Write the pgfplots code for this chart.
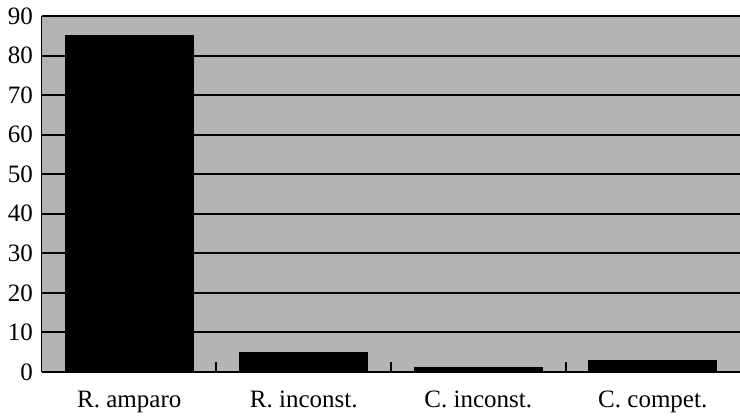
\documentclass[border=0pt]{standalone}
\usepackage{pgfplots}
\pgfplotsset{compat=1.18}
\usepackage{fontspec}
\setmainfont{Liberation Serif}
\usetikzlibrary{calc}
\definecolor{bggray}{HTML}{B4B4B4}
\begin{document}
\begin{tikzpicture}
\begin{axis}[
  name=ax,
  scale only axis,
  width=349pt, height=178pt,
  xmin=-0.5, xmax=3.5,
  ymin=0, ymax=90,
  ytick={0,10,...,90},
  xtick={0,1,2,3},
  xticklabels={R. amparo, R. inconst., C. inconst., C. compet.},
  minor xtick={0.5,1.5,2.5},
  tick pos=left,
  major x tick style={draw=none},
  minor x tick style={black, line width=1pt},
  minor tick length=5pt,
  tick align=inside,
  major y tick style={draw=none},
  ymajorgrids,
  major grid style={black, line width=1pt},
  axis line style={draw=none},
  axis background/.style={fill=bggray},
  font=\fontsize{12.5}{14}\selectfont,
  /pgf/number format/assume math mode=true,
  yticklabel style={anchor=east, xshift=-1pt},
  xticklabel style={yshift=-6pt},
  clip=false,
]
\addplot[ybar, bar width=64pt, fill=black, draw=black] coordinates {(0,85) (1,5) (2,1.1) (3,3)};
\draw[black, line width=1.4pt] (axis cs:-0.5,90) -- (axis cs:3.5,90);
\draw[black, line width=1pt] (axis cs:-0.5,0) -- (axis cs:3.5,0);
\draw[black, line width=0.5pt] (axis cs:-0.5,0) -- (axis cs:-0.5,90);
\end{axis}
\pgfresetboundingbox
\path ($(ax.south west)+(-21pt,-24pt)$) rectangle ($(ax.north east)+(0,8pt)$);
\end{tikzpicture}
\end{document}
